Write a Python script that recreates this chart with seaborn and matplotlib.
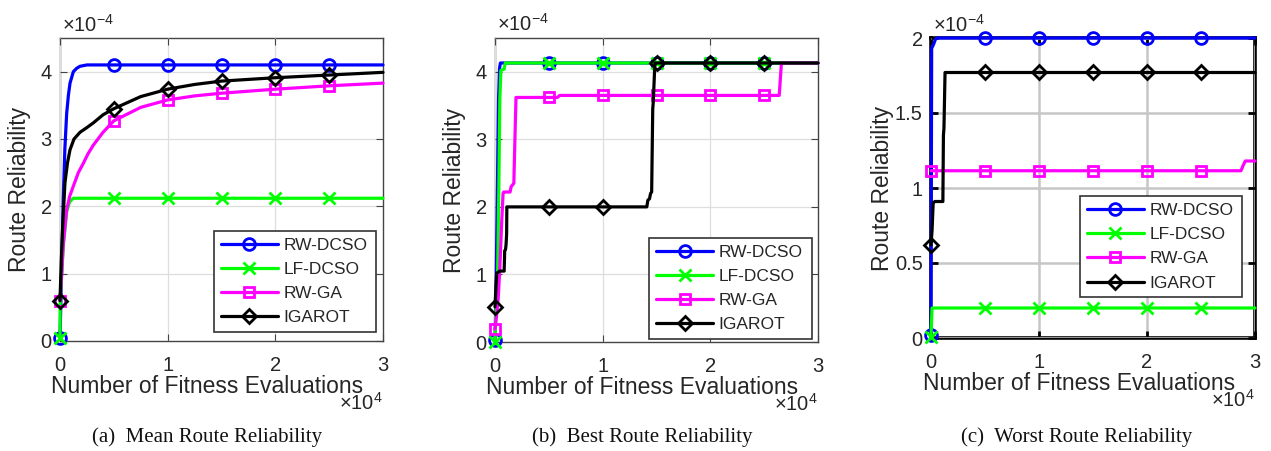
import numpy as np
import matplotlib
matplotlib.use("Agg")
import matplotlib.pyplot as plt
from matplotlib.lines import Line2D
from matplotlib.ticker import FuncFormatter
import seaborn as sns

# ---------------------------------------------------------------- data
# x: number of fitness evaluations, y: route reliability in units of 1e-4
SERIES = ["RW-DCSO", "LF-DCSO", "RW-GA", "IGAROT"]
MARKER_X = [0, 5000, 10000, 15000, 20000, 25000]

# (a) mean route reliability
a_rwdcso_x = [0, 100, 200, 310, 450, 620, 780, 930, 1240, 1550, 1860, 2500, 3200,
              5000, 10000, 15000, 20000, 25000, 30000]
a_rwdcso_y = [0.05, 0.7, 1.4, 2.14, 2.85, 3.38, 3.65, 3.83, 4.0, 4.05, 4.08, 4.1, 4.1,
              4.1, 4.1, 4.1, 4.1, 4.1, 4.1]
a_lfdcso_x = [0, 15, 310, 620, 900, 1240, 5000, 10000, 15000, 20000, 25000, 30000]
a_lfdcso_y = [0.05, 0.6, 1.42, 1.92, 2.07, 2.12, 2.12, 2.12, 2.12, 2.12, 2.12, 2.12]
a_rwga_x = [0, 150, 310, 620, 900, 1240, 1700, 2170, 2600, 3100, 4000, 5000, 7500,
            10000, 12500, 15000, 20000, 25000, 30000]
a_rwga_y = [0.6, 1.0, 1.45, 1.95, 2.15, 2.3, 2.5, 2.64, 2.78, 2.91, 3.1, 3.27, 3.47,
            3.58, 3.64, 3.68, 3.74, 3.79, 3.83]
a_igarot_x = [0, 120, 250, 460, 700, 930, 1300, 1860, 2500, 3100, 4000, 5000, 7500,
              10000, 12500, 15000, 20000, 25000, 30000]
a_igarot_y = [0.6, 1.2, 1.7, 2.35, 2.65, 2.84, 3.0, 3.1, 3.17, 3.24, 3.36, 3.45, 3.63,
              3.74, 3.81, 3.86, 3.91, 3.95, 3.99]

# (b) best route reliability
b_rwdcso_x = [0, 80, 160, 250, 330, 420, 500, 5000, 10000, 15000, 20000, 25000, 30000]
b_rwdcso_y = [0.03, 0.6, 1.5, 2.6, 3.6, 4.05, 4.13, 4.13, 4.13, 4.13, 4.13, 4.13, 4.13]
b_lfdcso_x = [0, 100, 250, 350, 450, 550, 850, 950, 5000, 10000, 15000, 20000, 25000, 30000]
b_lfdcso_y = [0.0, 0.5, 1.07, 2.2, 3.6, 4.02, 4.04, 4.13, 4.13, 4.13, 4.13, 4.13, 4.13, 4.13]
b_rwga_x = [0, 150, 300, 450, 600, 750, 800, 1400, 1500, 1750, 1850, 1950, 5000, 5800,
            6000, 10000, 15000, 20000, 25000, 26400, 26600, 30000]
b_rwga_y = [0.19, 0.4, 0.65, 1.1, 1.7, 2.2, 2.22, 2.22, 2.3, 2.35, 3.0, 3.62, 3.62, 3.62,
            3.65, 3.65, 3.65, 3.65, 3.65, 3.65, 4.13, 4.13]
b_igarot_x = [0, 80, 160, 450, 850, 900, 980, 1030, 1080, 1100, 5000, 10000, 14100, 14200,
              14350, 14450, 14550, 14650, 14700, 14850, 15000, 20000, 25000, 30000]
b_igarot_y = [0.52, 0.8, 1.02, 1.05, 1.05, 1.35, 1.37, 1.45, 1.6, 2.0, 2.0, 2.0, 2.0, 2.1,
              2.12, 2.2, 2.22, 3.45, 3.55, 4.13, 4.13, 4.13, 4.13, 4.13]

# (c) worst route reliability
c_rwdcso_x = [0, 60, 120, 250, 400, 550, 5000, 10000, 15000, 20000, 25000, 30000]
c_rwdcso_y = [0.02, 1.93, 1.94, 1.96, 1.99, 2.0, 2.0, 2.0, 2.0, 2.0, 2.0, 2.0]
c_lfdcso_x = [0, 100, 5000, 10000, 15000, 20000, 25000, 30000]
c_lfdcso_y = [0.01, 0.2, 0.2, 0.2, 0.2, 0.2, 0.2, 0.2]
c_rwga_x = [0, 5000, 10000, 15000, 20000, 25000, 28700, 28900, 29100, 30000]
c_rwga_y = [1.115, 1.115, 1.115, 1.115, 1.115, 1.115, 1.115, 1.15, 1.18, 1.18]
c_igarot_x = [0, 100, 200, 350, 1100, 1150, 1200, 1300, 5000, 10000, 15000, 20000, 25000, 30000]
c_igarot_y = [0.62, 0.72, 0.9, 0.91, 0.91, 1.35, 1.4, 1.77, 1.77, 1.77, 1.77, 1.77, 1.77, 1.77]

Y_UNIT = 1e-4
X_UNIT = 1e4

panels = [
    dict(series=[(a_rwdcso_x, a_rwdcso_y), (a_lfdcso_x, a_lfdcso_y),
                 (a_rwga_x, a_rwga_y), (a_igarot_x, a_igarot_y)],
         ylim=4.5, yticks=[0, 1, 2, 3, 4], caption="(a)  Mean Route Reliability"),
    dict(series=[(b_rwdcso_x, b_rwdcso_y), (b_lfdcso_x, b_lfdcso_y),
                 (b_rwga_x, b_rwga_y), (b_igarot_x, b_igarot_y)],
         ylim=4.5, yticks=[0, 1, 2, 3, 4], caption="(b)  Best Route Reliability"),
    dict(series=[(c_rwdcso_x, c_rwdcso_y), (c_lfdcso_x, c_lfdcso_y),
                 (c_rwga_x, c_rwga_y), (c_igarot_x, c_igarot_y)],
         ylim=2.0, yticks=[0, 0.5, 1, 1.5, 2], caption="(c)  Worst Route Reliability"),
]

# ---------------------------------------------------------------- style
sns.set_theme(style="white")
plt.rcParams["font.family"] = ["Liberation Sans", "DejaVu Sans"]
plt.rcParams["mathtext.fontset"] = "custom"
plt.rcParams["mathtext.rm"] = "Liberation Sans"
plt.rcParams["mathtext.it"] = "Liberation Sans:italic"

COLORS = ["#0000ff", "#00ff00", "#ff00ff", "#000000"]
MARKERS = ["o", "x", "s", "D"]
MSIZES = [8.5, 9, 7, 6.8]
TXT = "#262626"
TICK_FS = 14.5
LABEL_FS = 16.5

fig = plt.figure(figsize=(12.71, 4.51), dpi=100)
axes_pos = [
    [60 / 1271, 110 / 451, 323 / 1271, 303 / 451],
    [495 / 1271, 109 / 451, 323 / 1271, 304 / 451],
    [931 / 1271, 113 / 451, 324 / 1271, 300 / 451],
]
legend_box = [
    (0.477, 0.03, 0.501, 0.336),
    (0.478, 0.01, 0.504, 0.336),
    (0.46, 0.136, 0.501, 0.337),
]
ylabel_x = [-0.124, -0.124, -0.151]
caption_x = [207, 642, 1077]

for i, p in enumerate(panels):
    ax = fig.add_axes(axes_pos[i])
    worst = i == 2
    for (xs, ys), col, mk, ms, name in zip(p["series"], COLORS, MARKERS, MSIZES, SERIES):
        xs = np.asarray(xs, float)
        ys = np.asarray(ys, float) * Y_UNIT
        idx = [int(np.where(xs == m)[0][0]) for m in MARKER_X]
        sns.lineplot(x=xs, y=ys, ax=ax, color=col, lw=2.3, estimator=None, sort=False,
                     errorbar=None, marker=mk, markevery=idx, markersize=ms,
                     markerfacecolor="none", markeredgecolor=col, markeredgewidth=2.0,
                     clip_on=False, legend=False)

    ax.set_xlim(0, 3 * X_UNIT)
    ax.set_ylim(0, p["ylim"] * Y_UNIT)
    ax.set_xticks([0, 1e4, 2e4, 3e4])
    ax.set_yticks([v * Y_UNIT for v in p["yticks"]])
    ax.xaxis.set_major_formatter(FuncFormatter(lambda v, _: f"{v / X_UNIT:g}"))
    ax.yaxis.set_major_formatter(FuncFormatter(lambda v, _: f"{v / Y_UNIT:g}"))

    ax.grid(True, color="#c6c6c6" if worst else "#dedede", lw=1.8 if worst else 0.9)
    ax.set_axisbelow(True)
    for sp in ax.spines.values():
        sp.set_color("#000000" if worst else "#444444")
        sp.set_linewidth(2.6 if worst else 1.0)
        sp.set_zorder(0.5)
    ax.tick_params(direction="in", length=5, width=2 if worst else 0.8,
                   top=True, right=True, bottom=True, left=True,
                   labelsize=TICK_FS, labelcolor=TXT, color="#000000" if worst else "#444444")
    ax.tick_params(axis="x", pad=11)
    ax.tick_params(axis="y", pad=6)

    ax.set_xlabel("Number of Fitness Evaluations", fontsize=LABEL_FS, color=TXT)
    ax.xaxis.label.set_va("center")
    ax.xaxis.set_label_coords(0.456, -0.150)
    ax.set_ylabel("Route Reliability", fontsize=LABEL_FS, color=TXT)
    ax.yaxis.label.set_va("center")
    ax.yaxis.set_label_coords(ylabel_x[i], 0.5)

    ax.text(0.006, 1.045, r"$\times$10$^{\mathregular{-4}}$", transform=ax.transAxes,
            ha="left", va="center", fontsize=TICK_FS, color=TXT)
    ax.text(0.998, -0.205, r"$\times$10$^{\mathregular{4}}$", transform=ax.transAxes,
            ha="right", va="center", fontsize=TICK_FS, color=TXT)

    handles = [Line2D([0], [0], color=c, lw=2.3, marker=m, markersize=s,
                      markerfacecolor="none", markeredgecolor=c, markeredgewidth=2.0)
               for c, m, s in zip(COLORS, MARKERS, MSIZES)]
    leg = ax.legend(handles, SERIES, loc="lower left", bbox_to_anchor=legend_box[i],
                    mode="expand", fontsize=12.5, frameon=True, fancybox=False,
                    framealpha=1, edgecolor="#333333", handlelength=3.3,
                    handletextpad=0.3, labelspacing=0.52, borderpad=0.38,
                    borderaxespad=0)
    leg.get_frame().set_linewidth(1.2)
    for t in leg.get_texts():
        t.set_color(TXT)

    fig.text(caption_x[i] / 1271, 14 / 451, p["caption"], ha="center", va="center",
             fontsize=15, family="Liberation Serif", color="#111111")

fig.savefig("out.png", dpi=100)
